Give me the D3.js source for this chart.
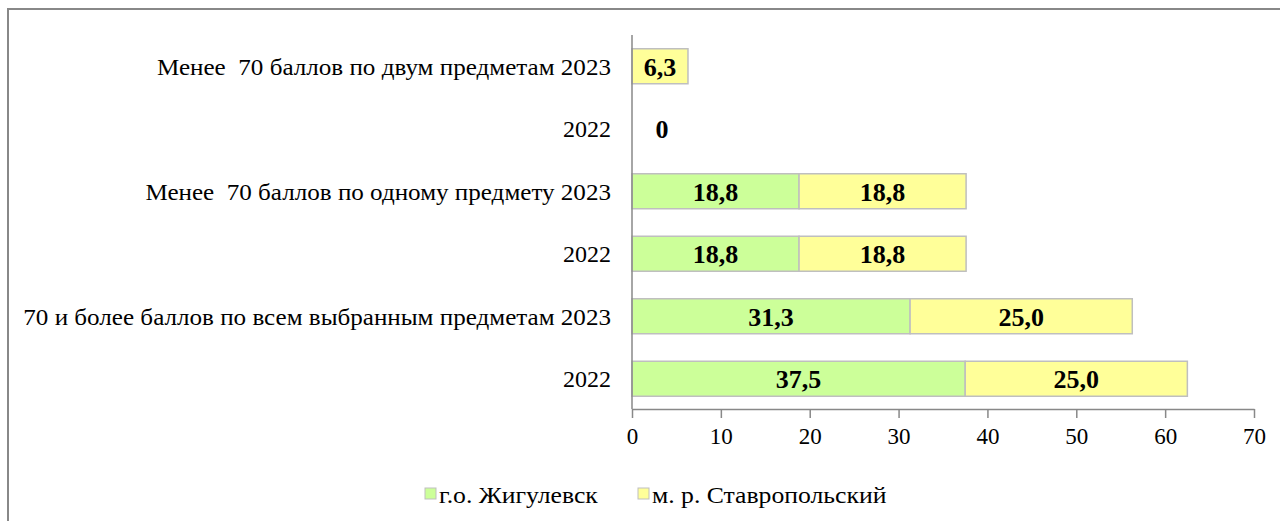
<!DOCTYPE html>
<html>
<head>
<meta charset="utf-8">
<script src="https://cdn.jsdelivr.net/npm/d3@7"></script>
<style>
  body { margin: 0; background: #fff; }
</style>
</head>
<body>
<div id="chart"></div>
<script>
// data
var categories = [
  "Менее  70 баллов по двум предметам 2023",
  "2022",
  "Менее  70 баллов по одному предмету 2023",
  "2022",
  "70 и более баллов по всем выбранным предметам 2023",
  "2022"
];
var seriesNames = ["г.о. Жигулевск", "м. р. Ставропольский"];
var zhigulevsk = [null, null, 18.8, 18.8, 31.3, 37.5];
var stavropol  = [6.3, 0, 18.8, 18.8, 25.0, 25.0];
var xTicks = [0, 10, 20, 30, 40, 50, 60, 70];
var colors = ["#ccff99", "#ffff99"];

var font = "'Liberation Serif', 'Times New Roman', serif";
var width = 1280, height = 521;
var svg = d3.select("#chart").append("svg")
  .attr("width", width).attr("height", height)
  .attr("font-family", font);

// widen cyrillic text a little, the original font runs wider
function widen(sel, k){
  sel.each(function(d){
    if (/^[\d\s]+$/.test(d)) return;
    var w = this.getComputedTextLength();
    d3.select(this).attr("textLength", w * k).attr("lengthAdjust", "spacingAndGlyphs");
  });
}

// outer frame
svg.append("rect")
  .attr("x", 8).attr("y", 9)
  .attr("width", width).attr("height", height)
  .attr("fill", "none").attr("stroke", "#888").attr("stroke-width", 2);

var x = d3.scaleLinear().domain([0, 70]).range([632, 1254]);
var y = d3.scaleBand().domain(d3.range(categories.length)).range([35, 410]).paddingInner(0.44).paddingOuter(0.22);

// stacked rows
var rows = categories.map(function(c, i){
  return {i: i, vals: [zhigulevsk[i], stavropol[i]]};
});

var g = svg.append("g");
rows.forEach(function(r){
  var start = 0;
  r.vals.forEach(function(v, k){
    if (v === null) return;
    if (v > 0) {
      g.append("rect")
        .attr("x", x(start)).attr("y", y(r.i))
        .attr("width", x(start + v) - x(start)).attr("height", y.bandwidth())
        .attr("fill", colors[k]).attr("stroke", "#bfbfbf").attr("stroke-width", 1.5);
    }
    var lx = v > 0 ? (x(start) + x(start + v)) / 2 : x(start) + 30;
    g.append("text")
      .attr("x", lx).attr("y", y(r.i) + y.bandwidth() / 2)
      .attr("dy", "0.36em").attr("text-anchor", "middle")
      .attr("font-size", 26).attr("font-weight", "bold")
      .text(d3.format(".1f")(v).replace(".", ",").replace(/^0,0$/, "0"));
    start += v;
  });
});

// category labels
svg.append("g").selectAll("text").data(categories).enter().append("text")
  .attr("x", 611).attr("y", function(d, i){ return y(i) + y.bandwidth() / 2; })
  .attr("dy", "0.36em").attr("text-anchor", "end")
  .attr("font-size", 24).style("white-space", "pre")
  .text(function(d){ return d; })
  .call(widen, 1.045);

// vertical axis line
svg.append("line")
  .attr("x1", x(0)).attr("x2", x(0)).attr("y1", 35).attr("y2", 409)
  .attr("stroke", "#888").attr("stroke-width", 1.5);

// x axis
var xAxis = svg.append("g").attr("transform", "translate(0,409)")
  .call(d3.axisBottom(x).tickValues(xTicks).tickSize(9).tickPadding(10).tickSizeOuter(0));
xAxis.attr("font-family", font).attr("font-size", 23);
xAxis.select(".domain").attr("stroke", "#888").attr("stroke-width", 1.5);
xAxis.selectAll(".tick line").attr("stroke", "#888").attr("stroke-width", 1.5);
xAxis.selectAll(".tick text").attr("fill", "#000");

// legend
var legendX = [425, 638];
var legend = svg.append("g").selectAll("g").data(seriesNames).enter().append("g")
  .attr("transform", function(d, i){ return "translate(" + legendX[i] + ",494)"; });
legend.append("rect")
  .attr("x", 0).attr("y", -6).attr("width", 11).attr("height", 11)
  .attr("fill", function(d, i){ return colors[i]; })
  .attr("stroke", "#bfbfbf").attr("stroke-width", 1);
legend.append("text")
  .attr("x", 14).attr("y", 0).attr("dy", "0.36em")
  .attr("font-size", 24)
  .text(function(d){ return d; })
  .call(widen, 1.07);
</script>
</body>
</html>
